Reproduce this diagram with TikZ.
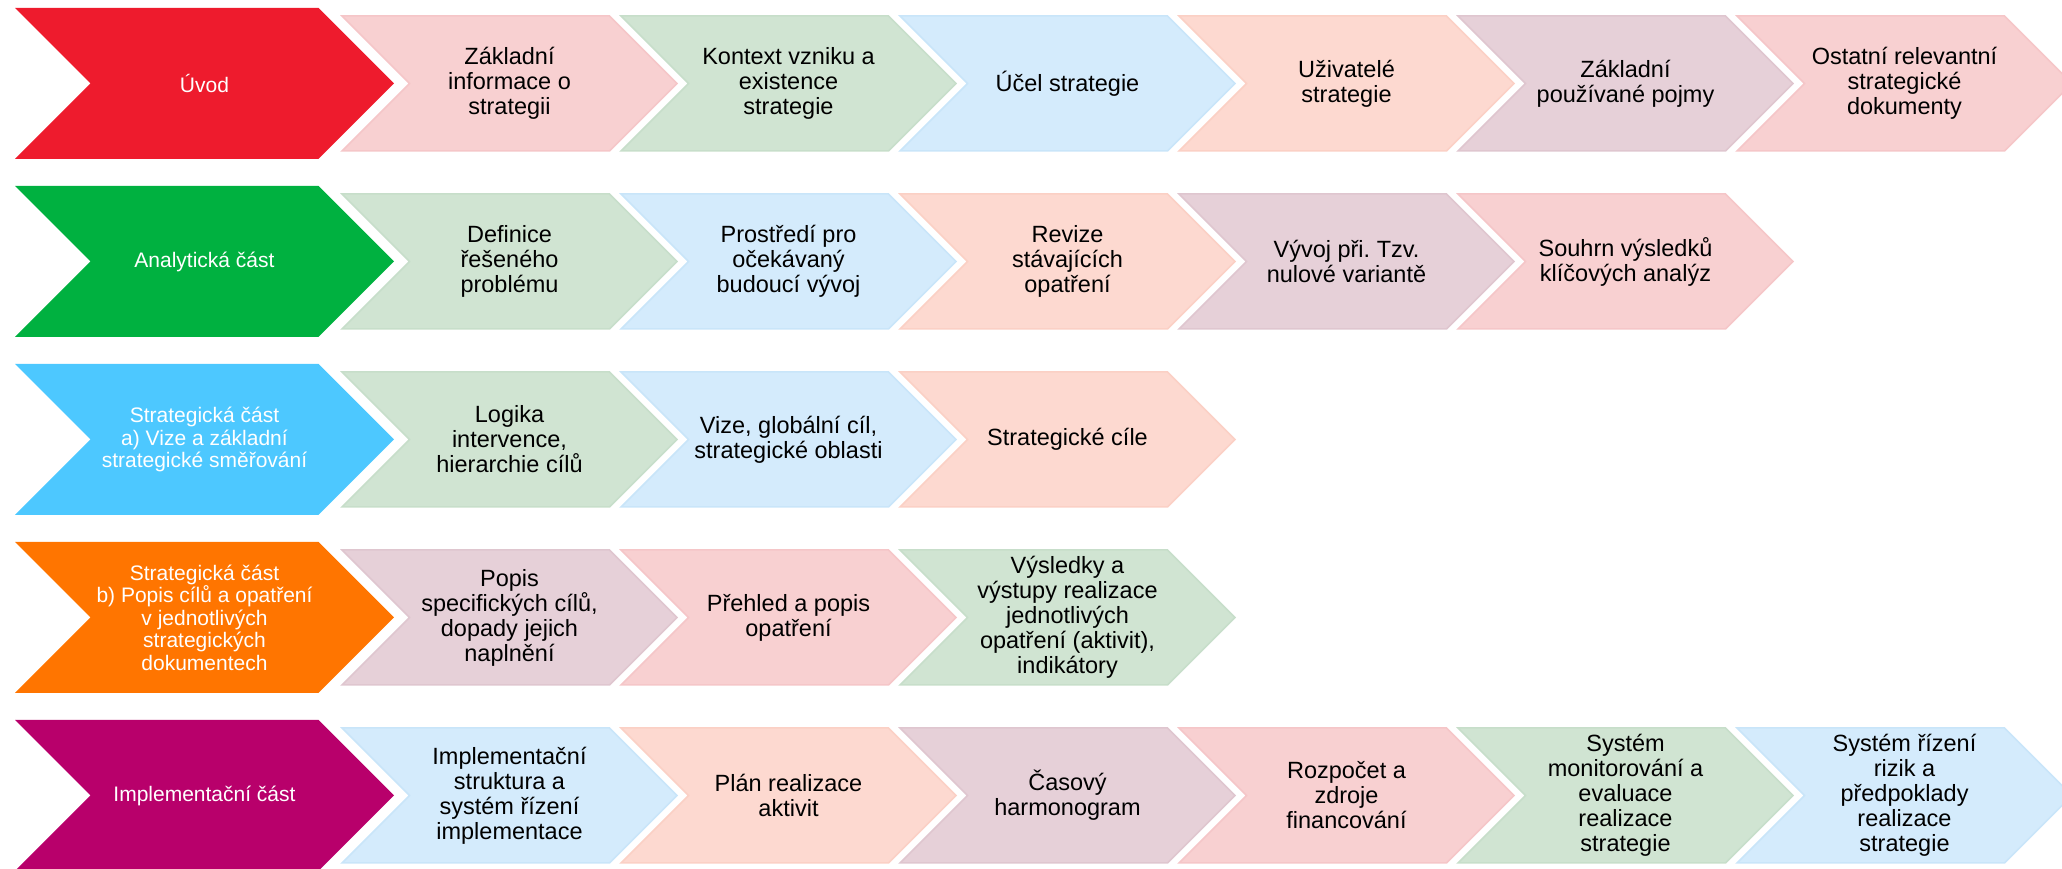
\documentclass[tikz,border=0pt]{standalone}
\usepackage{fontspec}
\setmainfont{Liberation Sans}
\frenchspacing
\usetikzlibrary{shapes.symbols}
\definecolor{uvodc}{HTML}{EE1B2D}
\definecolor{analc}{HTML}{00B140}
\definecolor{strac}{HTML}{4DC8FF}
\definecolor{strbc}{HTML}{FF7500}
\definecolor{implc}{HTML}{B8006B}
\definecolor{pinkc}{HTML}{F8D0D1}
\definecolor{greenc}{HTML}{D0E4D2}
\definecolor{bluec}{HTML}{D4EBFC}
\definecolor{peachc}{HTML}{FDD9D0}
\definecolor{mauvec}{HTML}{E6D0D8}
\definecolor{pinkcb}{HTML}{F5C6C8}
\definecolor{greencb}{HTML}{C7DECA}
\definecolor{bluecb}{HTML}{C9E5F9}
\definecolor{peachcb}{HTML}{FBD0C5}
\definecolor{mauvecb}{HTML}{DFC6CF}
\begin{document}
\begin{tikzpicture}[x=1pt, y=1pt,
  arrowbase/.style={signal, signal to=east, signal from=west, signal pointer angle=90,
    inner sep=0pt, align=center},
  part/.style={arrowbase, fill=#1, minimum width=379pt, minimum height=151pt,
    text=white, font=\fontsize{21}{22.5}\selectfont},
  item/.style={arrowbase, fill=#1, draw=#1b, line width=1.5pt,
    minimum width=335pt, minimum height=135pt,
    font=\fontsize{23.5}{25}\selectfont}]
   \useasboundingbox (0,0) rectangle (2062,869);
   % row 1
   \node[part=uvodc] (uvod) at (204.5,785.5) {Úvod};
   \node[item=pinkc] (u1) at (509.5,785.5) {Základní\\informace o\\strategii};
   \node[item=greenc] (u2) at (788.5,785.5) {Kontext vzniku a\\existence\\strategie};
   \node[item=bluec] (u3) at (1067.5,785.5) {Účel strategie};
   \node[item=peachc] (u4) at (1346.5,785.5) {Uživatelé\\strategie};
   \node[item=mauvec] (u5) at (1625.5,785.5) {Základní\\používané pojmy};
   \node[item=pinkc] (u6) at (1904.5,785.5) {Ostatní relevantní\\strategické\\dokumenty};
   % row 2
   \node[part=analc] (anal) at (204.5,607.5) {Analytická část};
   \node[item=greenc] (a1) at (509.5,607.5) {Definice\\řešeného\\problému};
   \node[item=bluec] (a2) at (788.5,607.5) {Prostředí pro\\očekávaný\\budoucí vývoj};
   \node[item=peachc] (a3) at (1067.5,607.5) {Revize\\stávajících\\opatření};
   \node[item=mauvec] (a4) at (1346.5,607.5) {Vývoj při. Tzv.\\nulové variantě};
   \node[item=pinkc] (a5) at (1625.5,607.5) {Souhrn výsledků\\klíčových analýz};
   % row 3
   \node[part=strac] (stra) at (204.5,429.5) {Strategická část\\a) Vize a základní\\strategické směřování};
   \node[item=greenc] (s1) at (509.5,429.5) {Logika\\intervence,\\hierarchie cílů};
   \node[item=bluec] (s2) at (788.5,429.5) {Vize, globální cíl,\\strategické oblasti};
   \node[item=peachc] (s3) at (1067.5,429.5) {Strategické cíle};
   % row 4
   \node[part=strbc] (strb) at (204.5,251.5) {Strategická část\\b) Popis cílů a opatření\\v jednotlivých\\strategických\\dokumentech};
   \node[item=mauvec] (b1) at (509.5,251.5) {Popis\\specifických cílů,\\dopady jejich\\naplnění};
   \node[item=pinkc] (b2) at (788.5,251.5) {Přehled a popis\\opatření};
   \node[item=greenc] (b3) at (1067.5,251.5) {Výsledky a\\výstupy realizace\\jednotlivých\\opatření (aktivit),\\indikátory};
   % row 5
   \node[part=implc] (impl) at (204.5,73.5) {Implementační část};
   \node[item=bluec] (i1) at (509.5,73.5) {Implementační\\struktura a\\systém řízení\\implementace};
   \node[item=peachc] (i2) at (788.5,73.5) {Plán realizace\\aktivit};
   \node[item=mauvec] (i3) at (1067.5,73.5) {Časový\\harmonogram};
   \node[item=pinkc] (i4) at (1346.5,73.5) {Rozpočet a\\zdroje\\financování};
   \node[item=greenc] (i5) at (1625.5,73.5) {Systém\\monitorování a\\evaluace\\realizace\\strategie};
   \node[item=bluec] (i6) at (1904.5,73.5) {Systém řízení\\rizik a\\předpoklady\\realizace\\strategie};
\end{tikzpicture}
\end{document}
